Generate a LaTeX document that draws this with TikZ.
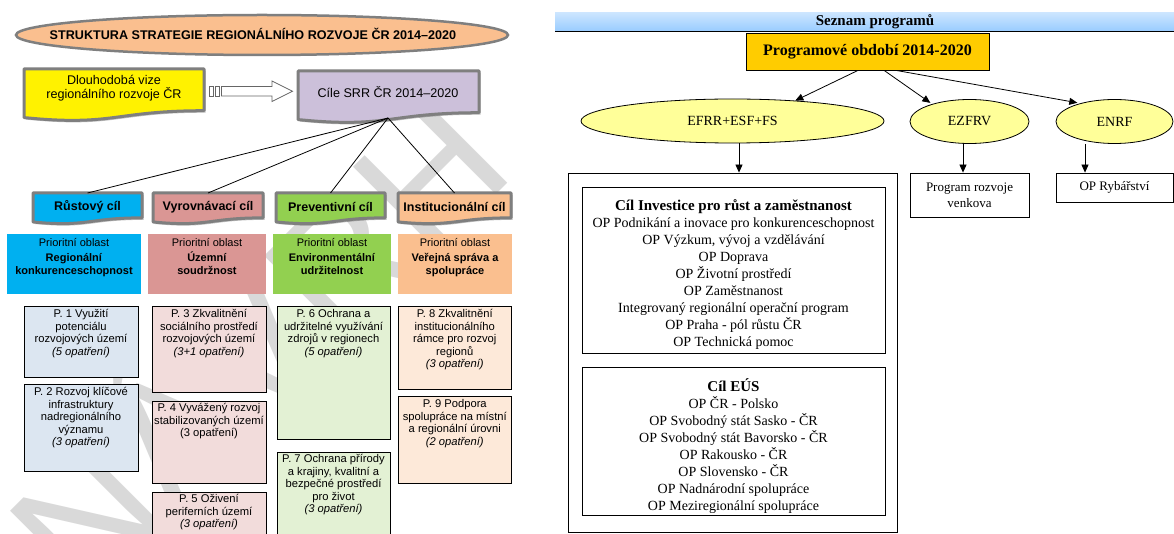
\documentclass[tikz,border=0pt]{standalone}
\usepackage{fontspec}
\setmainfont{Liberation Sans}
\newfontfamily\tnr{Liberation Serif}
\usetikzlibrary{arrows.meta,shadows,shapes.geometric,calc}
\definecolor{peach}{HTML}{FABF8F}
\definecolor{lav}{HTML}{CCC0DA}
\definecolor{cyanb}{HTML}{00B0F0}
\definecolor{rose}{HTML}{DA9694}
\definecolor{leaf}{HTML}{92D050}
\definecolor{pblue}{HTML}{DCE6F1}
\definecolor{ppink}{HTML}{F2DCDB}
\definecolor{pgreen}{HTML}{E3F1D4}
\definecolor{ppeach}{HTML}{FDE9D9}
\definecolor{gold}{HTML}{FFCC00}
\definecolor{lyellow}{HTML}{FFFF99}
\definecolor{barblue}{HTML}{99CCFF}
\definecolor{bordergray}{HTML}{7F7F7F}
\newcommand\WavyBox[6]{%
  \filldraw[wavy,fill=#5] (#1,#2) -- (#3,#2) -- (#3,{#2+0.802*#4})
    .. controls ({(#1+#3)/2},{#2+0.802*#4}) and ({(#1+#3)/2},{#2+1.108*#4}) .. (#1,{#2+0.934*#4}) -- cycle;
  \coordinate (#6) at ({(#1+#3)/2},#2);
}
\begin{document}
\begin{tikzpicture}[x=1pt,y=-1pt,
  wavy/.style={draw=bordergray,line width=3pt,line join=round,
    drop shadow={shadow xshift=1.5pt,shadow yshift=-2pt,fill=black,opacity=.25}},
  conn/.style={draw=black,line width=0.8pt},
  arr/.style={draw=black,line width=0.8pt,-{Triangle[length=8pt,width=7pt]}},
  cilt/.style={font=\bfseries\fontsize{12.5}{14}\selectfont,inner sep=0},
  obl/.style={rectangle,inner sep=0,minimum height=60pt},
  otext/.style={anchor=north,align=center,inner sep=0,font=\fontsize{11}{13}\selectfont},
  pbox/.style={rectangle,draw=black,line width=1pt,inner sep=0},
  ptext/.style={anchor=north,align=center,inner sep=0,font=\fontsize{11.2}{12.5}\selectfont},
  rbox/.style={rectangle,draw=black,line width=0.8pt,inner sep=0},
  ell/.style={ellipse,draw=black,line width=0.8pt,fill=lyellow,minimum height=44pt,inner sep=0,font=\tnr\fontsize{14}{16}\selectfont},
  listt/.style={anchor=north,align=center,inner sep=0,font=\tnr\fontsize{14}{17}\selectfont}
]
\useasboundingbox (0,0) rectangle (1174,534);
\fill[white] (0,0) rectangle (1174,534);

% watermark
\node[rotate=45,text=black!15,font=\fontsize{175}{175}\selectfont] (wm) at (248,336) {NÁVRH};

% ---------- left panel ----------
\node[ellipse,draw=bordergray,line width=2.5pt,fill=peach,minimum width=492pt,minimum height=40pt,inner sep=0] (tell) at (262,35) {};
\node[font=\bfseries\fontsize{12.6}{14}\selectfont] (title) at (253,34) {STRUKTURA STRATEGIE REGIONÁLNÍHO ROZVOJE ČR 2014–2020};

\WavyBox{24}{69}{204}{52}{yellow}{vizetop}
\node[align=center,font=\fontsize{12.6}{14}\selectfont] (vize) at (114,88) {Dlouhodobá vize\\regionálního rozvoje ČR};

\filldraw[draw=black!60,fill=white,line width=0.8pt] (209.5,86.5) rectangle (213.5,96) (215.5,86.5) rectangle (219.5,96);
\filldraw[draw=black!60,fill=white,line width=0.8pt] (221.5,86.5) -- (272,86.5) -- (272,81) -- (292.5,91.25) -- (272,101.5) -- (272,96) -- (221.5,96) -- cycle;

\WavyBox{298}{71}{479}{52}{lav}{ciletop}
\node[font=\fontsize{12.6}{14}\selectfont] (cile) at (388,92) {Cíle SRR ČR 2014–2020};
\coordinate (cilebot) at (388,118);

\WavyBox{33}{193}{142}{31}{cyanb}{c1top}
\WavyBox{153}{193}{263}{31}{rose}{c2top}
\WavyBox{276}{193}{385}{31}{leaf}{c3top}
\WavyBox{398}{193}{511}{31}{peach}{c4top}
\node[cilt] (c1) at (87.5,207) {Růstový cíl};
\node[cilt] (c2) at (208,207) {Vyrovnávací cíl};
\node[cilt] (c3) at (330.5,207) {Preventivní cíl};
\node[cilt] (c4) at (454.5,207) {Institucionální cíl};

\draw[conn] (cilebot) -- (c1top);
\draw[conn] (cilebot) -- (c2top);
\draw[conn] (cilebot) -- (c3top);
\draw[conn] (cilebot) -- (c4top);

\node[obl,fill=cyanb,minimum width=134pt] (o1) at (74,264) {};
\node[obl,fill=rose,minimum width=118pt] (o2) at (207,264) {};
\node[obl,fill=leaf,minimum width=118pt] (o3) at (332,264) {};
\node[obl,fill=peach,minimum width=114pt] (o4) at (455,264) {};
\node[otext] (o1t) at (74,238) {Prioritní oblast\\[2pt]\textbf{Regionální}\\\textbf{konkurenceschopnost}};
\node[otext] (o2t) at (207,238) {Prioritní oblast\\[2pt]\textbf{Územní}\\\textbf{soudržnost}};
\node[otext] (o3t) at (332,238) {Prioritní oblast\\[2pt]\textbf{Environmentální}\\\textbf{udržitelnost}};
\node[otext] (o4t) at (455,238) {Prioritní oblast\\[2pt]\textbf{Veřejná správa a}\\\textbf{spolupráce}};

\node[pbox,fill=pblue,minimum width=114pt,minimum height=70pt] (p1) at (81,342) {};
\node[pbox,fill=pblue,minimum width=114pt,minimum height=87pt] (p2) at (81,427.5) {};
\node[pbox,fill=ppink,minimum width=114pt,minimum height=85pt] (p3) at (209,349.5) {};
\node[pbox,fill=ppink,minimum width=114pt,minimum height=82pt] (p4) at (209,442) {};
\node[pbox,fill=ppink,minimum width=114pt,minimum height=53pt] (p5) at (209,518.5) {};
\node[pbox,fill=pgreen,minimum width=113pt,minimum height=132pt] (p6) at (333.5,373) {};
\node[pbox,fill=pgreen,minimum width=113pt,minimum height=93pt] (p7) at (333.5,498.5) {};
\node[pbox,fill=ppeach,minimum width=113.5pt,minimum height=82pt] (p8) at (454.75,348) {};
\node[pbox,fill=ppeach,minimum width=113.5pt,minimum height=87pt] (p9) at (454.75,439.5) {};

\node[ptext] (p1t) at ([yshift=-3pt]p1.north) {P. 1 Využití\\potenciálu\\rozvojových území\\\textit{(5 opatření)}};
\node[ptext] (p2t) at ([yshift=-4pt]p2.north) {P. 2 Rozvoj klíčové\\infrastruktury\\nadregionálního\\významu\\\textit{(3 opatření)}};
\node[ptext] (p3t) at ([yshift=-3pt]p3.north) {P. 3 Zkvalitnění\\sociálního prostředí\\rozvojových území\\\textit{(3+1 opatření)}};
\node[ptext] (p4t) at ([yshift=-3pt]p4.north) {P. 4 Vyvážený rozvoj\\stabilizovaných území\\(3 opatření)};
\node[ptext] (p5t) at ([yshift=-3pt]p5.north) {P. 5 Oživení\\periferních území\\\textit{(3 opatření)}};
\node[ptext] (p6t) at ([yshift=-3pt]p6.north) {P. 6 Ochrana a\\udržitelné využívání\\zdrojů v regionech\\\textit{(5 opatření)}};
\node[ptext] (p7t) at ([yshift=-3pt]p7.north) {P. 7 Ochrana přírody\\a krajiny, kvalitní a\\bezpečné prostředí\\pro život\\\textit{(3 opatření)}};
\node[ptext] (p8t) at ([yshift=-3pt]p8.north) {P. 8 Zkvalitnění\\institucionálního\\rámce pro rozvoj\\regionů\\\textit{(3 opatření)}};
\node[ptext] (p9t) at ([yshift=-4pt]p9.north) {P. 9 Podpora\\spolupráce na místní\\a regionální úrovni\\\textit{(2 opatření)}};

% ---------- right panel ----------
\shade[top color=barblue!50,bottom color=barblue] (555,12.7) rectangle (1174,31);
\draw[line width=0.8pt] (555,31) -- (1174,31);
\node[font=\tnr\bfseries\fontsize{15}{17}\selectfont] (seznam) at (875,22) {Seznam programů};

\node[rbox,fill=gold,minimum width=243pt,minimum height=37pt,font=\tnr\bfseries\fontsize{16}{18}\selectfont] (prog) at (867.5,51.5) {Programové období 2014-2020};

\node[ell,minimum width=303pt] (efrr) at (732.5,121) {EFRR+ESF+FS};
\node[ell,minimum width=119pt] (ezfrv) at (969.5,121.5) {EZFRV};
\node[ell,minimum width=117pt] (enrf) at (1114.5,121.5) {ENRF};

\draw[arr] ($(prog.south west)!0.461!(prog.south east)$) -- (efrr.18);
\draw[arr,shorten >=2pt] ($(prog.south west)!0.568!(prog.south east)$) -- (ezfrv.155);
\draw[arr,shorten >=3pt] ($(prog.south west)!0.617!(prog.south east)$) -- (enrf.152);

\node[rbox,minimum width=329pt,minimum height=359pt] (outer) at (732.5,352.5) {};
\node[rbox,minimum width=303pt,minimum height=166pt] (cilinv) at (733.5,270) {};
\node[rbox,minimum width=303pt,minimum height=148pt] (cileus) at (733.5,441) {};

\node[rbox,minimum width=119pt,minimum height=44pt,align=center,font=\tnr\fontsize{13}{16}\selectfont] (prv) at (969.5,195) {Program rozvoje\\venkova};
\node[rbox,minimum width=117pt,minimum height=29pt,font=\tnr\fontsize{13}{16}\selectfont] (ryb) at (1114.5,187.5) {OP Rybářství};

\coordinate (a1) at ($(efrr.south)+(6.5,0)$);
\coordinate (a2) at ($(ezfrv.south)+(-6.5,0)$);
\coordinate (a3) at ($(enrf.south)+(-29.5,0)$);
\draw[arr] (a1) -- (a1 |- outer.north);
\draw[arr] (a2) -- (a2 |- prv.north);
\draw[arr] (a3) -- (a3 |- ryb.north);

\node[listt] (invt) at (733.5,199) {{\bfseries\fontsize{15}{17}\selectfont Cíl Investice pro růst a zaměstnanost}\\OP Podnikání a inovace pro konkurenceschopnost\\OP Výzkum, vývoj a vzdělávání\\OP Doprava\\OP Životní prostředí\\OP Zaměstnanost\\Integrovaný regionální operační program\\OP Praha - pól růstu ČR\\OP Technická pomoc};
\node[listt] (eust) at (733.5,378.5) {{\bfseries\fontsize{15}{17}\selectfont Cíl EÚS}\\OP ČR - Polsko\\OP Svobodný stát Sasko - ČR\\OP Svobodný stát Bavorsko - ČR\\OP Rakousko - ČR\\OP Slovensko - ČR\\OP Nadnárodní spolupráce\\OP Meziregionální spolupráce};
\end{tikzpicture}
\end{document}
